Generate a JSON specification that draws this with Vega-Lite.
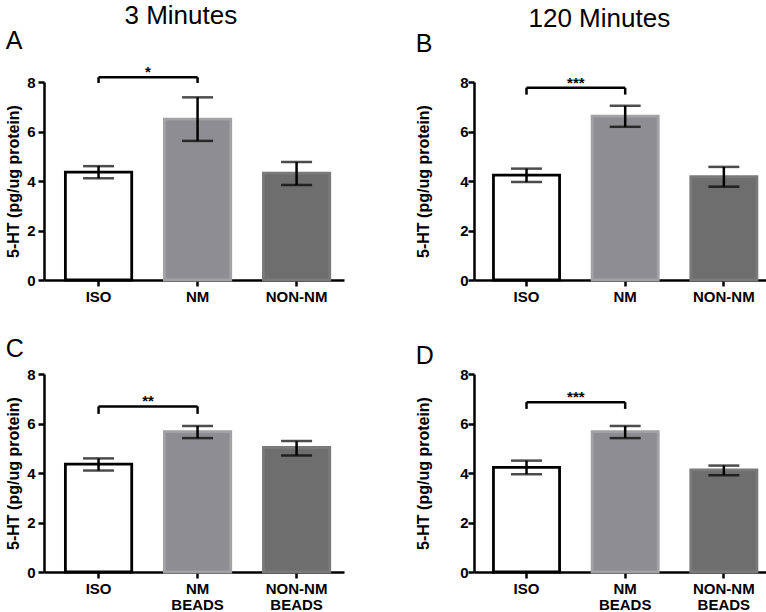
{
  "$schema": "https://vega.github.io/schema/vega-lite/v6.json",
  "padding": {"left": 5, "top": 3, "right": 2, "bottom": 0},
  "datasets": {
    "bars": [
      {"panel": "A", "group": "ISO", "kind": "iso", "mean": 4.36, "lo": 4.11, "hi": 4.60},
      {"panel": "A", "group": "NM", "kind": "nm", "mean": 6.50, "lo": 5.62, "hi": 7.38},
      {"panel": "A", "group": "NON-NM", "kind": "non", "mean": 4.32, "lo": 3.84, "hi": 4.77},
      {"panel": "B", "group": "ISO", "kind": "iso", "mean": 4.24, "lo": 3.96, "hi": 4.50},
      {"panel": "B", "group": "NM", "kind": "nm", "mean": 6.62, "lo": 6.19, "hi": 7.04},
      {"panel": "B", "group": "NON-NM", "kind": "non", "mean": 4.18, "lo": 3.77, "hi": 4.57},
      {"panel": "C", "group": "ISO", "kind": "iso", "mean": 4.36, "lo": 4.10, "hi": 4.59},
      {"panel": "C", "group": "NM BEADS", "kind": "nm", "mean": 5.67, "lo": 5.41, "hi": 5.90},
      {"panel": "C", "group": "NON-NM BEADS", "kind": "non", "mean": 5.03, "lo": 4.71, "hi": 5.29},
      {"panel": "D", "group": "ISO", "kind": "iso", "mean": 4.23, "lo": 3.95, "hi": 4.50},
      {"panel": "D", "group": "NM BEADS", "kind": "nm", "mean": 5.67, "lo": 5.41, "hi": 5.90},
      {"panel": "D", "group": "NON-NM BEADS", "kind": "non", "mean": 4.13, "lo": 3.91, "hi": 4.30}
    ],
    "sig": [
      {"panel": "A", "from": "ISO", "to": "NM", "top": 8.19, "low": 7.96, "stars": "*"},
      {"panel": "B", "from": "ISO", "to": "NM", "top": 7.77, "low": 7.49, "stars": "***"},
      {"panel": "C", "from": "ISO", "to": "NM BEADS", "top": 6.69, "low": 6.39, "stars": "**"},
      {"panel": "D", "from": "ISO", "to": "NM BEADS", "top": 6.86, "low": 6.59, "stars": "***"}
    ]
  },
  "spacing": 71,
  "hconcat": [
    {
      "title": {"text": "3 Minutes", "anchor": "middle", "fontSize": 26, "fontWeight": "normal", "offset": 0, "dx": 6},
      "spacing": 33,
      "vconcat": [
        {
          "width": 300, "height": 198,
          "title": {"text": "A", "anchor": "start", "frame": "bounds", "fontSize": 25, "fontWeight": "normal", "offset": 11},
          "layer": [
            {"data": {"name": "bars"}, "transform": [{"filter": "datum.panel == 'A'"}],
             "mark": {"type": "bar", "strokeWidth": 2.8},
             "encoding": {
               "x": {"field": "group", "type": "nominal", "scale": {"paddingInner": 0.33, "paddingOuter": 0.18, "align": 0.6}, "axis": {"title": null}},
               "y": {"field": "mean", "type": "quantitative", "scale": {"domain": [0, 8], "nice": false}, "axis": {"title": "5-HT (pg/ug protein)", "values": [0, 2, 4, 6, 8], "titlePadding": 5, "labelPadding": 3}},
               "fill": {"field": "kind", "type": "nominal", "scale": {"domain": ["iso", "nm", "non"], "range": ["#ffffff", "#8e8e92", "#6e6e6e"]}, "legend": null},
               "stroke": {"field": "kind", "type": "nominal", "scale": {"domain": ["iso", "nm", "non"], "range": ["#000000", "#a2a2a4", "#7a7a7a"]}, "legend": null}
             }},
            {"data": {"name": "bars"}, "transform": [{"filter": "datum.panel == 'A'"}],
             "mark": {"type": "rule", "strokeWidth": 2.5, "color": "#000000"},
             "encoding": {"x": {"field": "group", "type": "nominal"}, "y": {"field": "lo", "type": "quantitative"}, "y2": {"field": "hi"}}},
            {"data": {"name": "bars"}, "transform": [{"filter": "datum.panel == 'A'"}],
             "mark": {"type": "tick", "size": 31, "thickness": 2.5, "color": "#000000"},
             "encoding": {"x": {"field": "group", "type": "nominal"}, "y": {"field": "lo", "type": "quantitative"}}},
            {"data": {"name": "bars"}, "transform": [{"filter": "datum.panel == 'A'"}],
             "mark": {"type": "tick", "size": 31, "thickness": 2.5, "color": "#000000"},
             "encoding": {"x": {"field": "group", "type": "nominal"}, "y": {"field": "hi", "type": "quantitative"}}},
            {"data": {"name": "sig"}, "transform": [{"filter": "datum.panel == 'A'"}],
             "mark": {"type": "rule", "strokeWidth": 2.5, "color": "#000000"},
             "encoding": {"x": {"field": "from", "type": "nominal", "bandPosition": 0.5}, "x2": {"field": "to", "bandPosition": 0.5}, "y": {"field": "top", "type": "quantitative"}}},
            {"data": {"name": "sig"}, "transform": [{"filter": "datum.panel == 'A'"}],
             "mark": {"type": "rule", "strokeWidth": 2.5, "color": "#000000"},
             "encoding": {"x": {"field": "from", "type": "nominal"}, "y": {"field": "top", "type": "quantitative"}, "y2": {"field": "low"}}},
            {"data": {"name": "sig"}, "transform": [{"filter": "datum.panel == 'A'"}],
             "mark": {"type": "rule", "strokeWidth": 2.5, "color": "#000000"},
             "encoding": {"x": {"field": "to", "type": "nominal"}, "y": {"field": "top", "type": "quantitative"}, "y2": {"field": "low"}}},
            {"data": {"name": "sig"}, "transform": [{"filter": "datum.panel == 'A'"}],
             "mark": {"type": "text", "fontSize": 15, "fontWeight": "bold", "baseline": "bottom", "dy": 3, "color": "#000000"},
             "encoding": {"x": {"field": "from", "type": "nominal", "bandPosition": 1.246}, "y": {"field": "top", "type": "quantitative"}, "text": {"field": "stars"}}}
          ]
        },
        {
          "width": 300, "height": 198,
          "title": {"text": "C", "anchor": "start", "frame": "bounds", "fontSize": 25, "fontWeight": "normal", "offset": 5},
          "layer": [
            {"data": {"name": "bars"}, "transform": [{"filter": "datum.panel == 'C'"}],
             "mark": {"type": "bar", "strokeWidth": 2.8},
             "encoding": {
               "x": {"field": "group", "type": "nominal", "scale": {"paddingInner": 0.33, "paddingOuter": 0.18, "align": 0.6}, "axis": {"title": null}},
               "y": {"field": "mean", "type": "quantitative", "scale": {"domain": [0, 8], "nice": false}, "axis": {"title": "5-HT (pg/ug protein)", "values": [0, 2, 4, 6, 8], "titlePadding": 5, "labelPadding": 3}},
               "fill": {"field": "kind", "type": "nominal", "scale": {"domain": ["iso", "nm", "non"], "range": ["#ffffff", "#8e8e92", "#6e6e6e"]}, "legend": null},
               "stroke": {"field": "kind", "type": "nominal", "scale": {"domain": ["iso", "nm", "non"], "range": ["#000000", "#a2a2a4", "#7a7a7a"]}, "legend": null}
             }},
            {"data": {"name": "bars"}, "transform": [{"filter": "datum.panel == 'C'"}],
             "mark": {"type": "rule", "strokeWidth": 2.5, "color": "#000000"},
             "encoding": {"x": {"field": "group", "type": "nominal"}, "y": {"field": "lo", "type": "quantitative"}, "y2": {"field": "hi"}}},
            {"data": {"name": "bars"}, "transform": [{"filter": "datum.panel == 'C'"}],
             "mark": {"type": "tick", "size": 31, "thickness": 2.5, "color": "#000000"},
             "encoding": {"x": {"field": "group", "type": "nominal"}, "y": {"field": "lo", "type": "quantitative"}}},
            {"data": {"name": "bars"}, "transform": [{"filter": "datum.panel == 'C'"}],
             "mark": {"type": "tick", "size": 31, "thickness": 2.5, "color": "#000000"},
             "encoding": {"x": {"field": "group", "type": "nominal"}, "y": {"field": "hi", "type": "quantitative"}}},
            {"data": {"name": "sig"}, "transform": [{"filter": "datum.panel == 'C'"}],
             "mark": {"type": "rule", "strokeWidth": 2.5, "color": "#000000"},
             "encoding": {"x": {"field": "from", "type": "nominal", "bandPosition": 0.5}, "x2": {"field": "to", "bandPosition": 0.5}, "y": {"field": "top", "type": "quantitative"}}},
            {"data": {"name": "sig"}, "transform": [{"filter": "datum.panel == 'C'"}],
             "mark": {"type": "rule", "strokeWidth": 2.5, "color": "#000000"},
             "encoding": {"x": {"field": "from", "type": "nominal"}, "y": {"field": "top", "type": "quantitative"}, "y2": {"field": "low"}}},
            {"data": {"name": "sig"}, "transform": [{"filter": "datum.panel == 'C'"}],
             "mark": {"type": "rule", "strokeWidth": 2.5, "color": "#000000"},
             "encoding": {"x": {"field": "to", "type": "nominal"}, "y": {"field": "top", "type": "quantitative"}, "y2": {"field": "low"}}},
            {"data": {"name": "sig"}, "transform": [{"filter": "datum.panel == 'C'"}],
             "mark": {"type": "text", "fontSize": 15, "fontWeight": "bold", "baseline": "bottom", "dy": 3, "color": "#000000"},
             "encoding": {"x": {"field": "from", "type": "nominal", "bandPosition": 1.246}, "y": {"field": "top", "type": "quantitative"}, "text": {"field": "stars"}}}
          ]
        }
      ]
    },
    {
      "title": {"text": "120 Minutes", "anchor": "middle", "fontSize": 26, "fontWeight": "normal", "offset": 0, "dx": 6},
      "spacing": 40,
      "vconcat": [
        {
          "width": 297, "height": 198,
          "title": {"text": "B", "anchor": "start", "frame": "bounds", "fontSize": 25, "fontWeight": "normal", "offset": 18},
          "layer": [
            {"data": {"name": "bars"}, "transform": [{"filter": "datum.panel == 'B'"}],
             "mark": {"type": "bar", "strokeWidth": 2.8},
             "encoding": {
               "x": {"field": "group", "type": "nominal", "scale": {"paddingInner": 0.33, "paddingOuter": 0.17, "align": 0.58}, "axis": {"title": null}},
               "y": {"field": "mean", "type": "quantitative", "scale": {"domain": [0, 8], "nice": false}, "axis": {"title": "5-HT (pg/ug protein)", "values": [0, 2, 4, 6, 8], "titlePadding": 28, "labelPadding": 0}},
               "fill": {"field": "kind", "type": "nominal", "scale": {"domain": ["iso", "nm", "non"], "range": ["#ffffff", "#8e8e92", "#6e6e6e"]}, "legend": null},
               "stroke": {"field": "kind", "type": "nominal", "scale": {"domain": ["iso", "nm", "non"], "range": ["#000000", "#a2a2a4", "#7a7a7a"]}, "legend": null}
             }},
            {"data": {"name": "bars"}, "transform": [{"filter": "datum.panel == 'B'"}],
             "mark": {"type": "rule", "strokeWidth": 2.5, "color": "#000000"},
             "encoding": {"x": {"field": "group", "type": "nominal"}, "y": {"field": "lo", "type": "quantitative"}, "y2": {"field": "hi"}}},
            {"data": {"name": "bars"}, "transform": [{"filter": "datum.panel == 'B'"}],
             "mark": {"type": "tick", "size": 31, "thickness": 2.5, "color": "#000000"},
             "encoding": {"x": {"field": "group", "type": "nominal"}, "y": {"field": "lo", "type": "quantitative"}}},
            {"data": {"name": "bars"}, "transform": [{"filter": "datum.panel == 'B'"}],
             "mark": {"type": "tick", "size": 31, "thickness": 2.5, "color": "#000000"},
             "encoding": {"x": {"field": "group", "type": "nominal"}, "y": {"field": "hi", "type": "quantitative"}}},
            {"data": {"name": "sig"}, "transform": [{"filter": "datum.panel == 'B'"}],
             "mark": {"type": "rule", "strokeWidth": 2.5, "color": "#000000"},
             "encoding": {"x": {"field": "from", "type": "nominal", "bandPosition": 0.5}, "x2": {"field": "to", "bandPosition": 0.5}, "y": {"field": "top", "type": "quantitative"}}},
            {"data": {"name": "sig"}, "transform": [{"filter": "datum.panel == 'B'"}],
             "mark": {"type": "rule", "strokeWidth": 2.5, "color": "#000000"},
             "encoding": {"x": {"field": "from", "type": "nominal"}, "y": {"field": "top", "type": "quantitative"}, "y2": {"field": "low"}}},
            {"data": {"name": "sig"}, "transform": [{"filter": "datum.panel == 'B'"}],
             "mark": {"type": "rule", "strokeWidth": 2.5, "color": "#000000"},
             "encoding": {"x": {"field": "to", "type": "nominal"}, "y": {"field": "top", "type": "quantitative"}, "y2": {"field": "low"}}},
            {"data": {"name": "sig"}, "transform": [{"filter": "datum.panel == 'B'"}],
             "mark": {"type": "text", "fontSize": 15, "fontWeight": "bold", "baseline": "bottom", "dy": 3, "color": "#000000"},
             "encoding": {"x": {"field": "from", "type": "nominal", "bandPosition": 1.246}, "y": {"field": "top", "type": "quantitative"}, "text": {"field": "stars"}}}
          ]
        },
        {
          "width": 297, "height": 198,
          "title": {"text": "D", "anchor": "start", "frame": "bounds", "fontSize": 25, "fontWeight": "normal", "offset": -2},
          "layer": [
            {"data": {"name": "bars"}, "transform": [{"filter": "datum.panel == 'D'"}],
             "mark": {"type": "bar", "strokeWidth": 2.8},
             "encoding": {
               "x": {"field": "group", "type": "nominal", "scale": {"paddingInner": 0.33, "paddingOuter": 0.17, "align": 0.58}, "axis": {"title": null}},
               "y": {"field": "mean", "type": "quantitative", "scale": {"domain": [0, 8], "nice": false}, "axis": {"title": "5-HT (pg/ug protein)", "values": [0, 2, 4, 6, 8], "titlePadding": 28, "labelPadding": 0}},
               "fill": {"field": "kind", "type": "nominal", "scale": {"domain": ["iso", "nm", "non"], "range": ["#ffffff", "#8e8e92", "#6e6e6e"]}, "legend": null},
               "stroke": {"field": "kind", "type": "nominal", "scale": {"domain": ["iso", "nm", "non"], "range": ["#000000", "#a2a2a4", "#7a7a7a"]}, "legend": null}
             }},
            {"data": {"name": "bars"}, "transform": [{"filter": "datum.panel == 'D'"}],
             "mark": {"type": "rule", "strokeWidth": 2.5, "color": "#000000"},
             "encoding": {"x": {"field": "group", "type": "nominal"}, "y": {"field": "lo", "type": "quantitative"}, "y2": {"field": "hi"}}},
            {"data": {"name": "bars"}, "transform": [{"filter": "datum.panel == 'D'"}],
             "mark": {"type": "tick", "size": 31, "thickness": 2.5, "color": "#000000"},
             "encoding": {"x": {"field": "group", "type": "nominal"}, "y": {"field": "lo", "type": "quantitative"}}},
            {"data": {"name": "bars"}, "transform": [{"filter": "datum.panel == 'D'"}],
             "mark": {"type": "tick", "size": 31, "thickness": 2.5, "color": "#000000"},
             "encoding": {"x": {"field": "group", "type": "nominal"}, "y": {"field": "hi", "type": "quantitative"}}},
            {"data": {"name": "sig"}, "transform": [{"filter": "datum.panel == 'D'"}],
             "mark": {"type": "rule", "strokeWidth": 2.5, "color": "#000000"},
             "encoding": {"x": {"field": "from", "type": "nominal", "bandPosition": 0.5}, "x2": {"field": "to", "bandPosition": 0.5}, "y": {"field": "top", "type": "quantitative"}}},
            {"data": {"name": "sig"}, "transform": [{"filter": "datum.panel == 'D'"}],
             "mark": {"type": "rule", "strokeWidth": 2.5, "color": "#000000"},
             "encoding": {"x": {"field": "from", "type": "nominal"}, "y": {"field": "top", "type": "quantitative"}, "y2": {"field": "low"}}},
            {"data": {"name": "sig"}, "transform": [{"filter": "datum.panel == 'D'"}],
             "mark": {"type": "rule", "strokeWidth": 2.5, "color": "#000000"},
             "encoding": {"x": {"field": "to", "type": "nominal"}, "y": {"field": "top", "type": "quantitative"}, "y2": {"field": "low"}}},
            {"data": {"name": "sig"}, "transform": [{"filter": "datum.panel == 'D'"}],
             "mark": {"type": "text", "fontSize": 15, "fontWeight": "bold", "baseline": "bottom", "dy": 3, "color": "#000000"},
             "encoding": {"x": {"field": "from", "type": "nominal", "bandPosition": 1.246}, "y": {"field": "top", "type": "quantitative"}, "text": {"field": "stars"}}}
          ]
        }
      ]
    }
  ],
  "config": {
    "font": "Liberation Sans",
    "view": {"stroke": null},
    "title": {"color": "#000000", "font": "Liberation Sans"},
    "axis": {
      "domainColor": "#000000", "domainWidth": 2.5, "tickColor": "#000000", "tickWidth": 2.5, "tickSize": 6,
      "labelColor": "#000000", "labelFont": "Liberation Sans", "labelFontWeight": "bold", "labelFontSize": 15,
      "titleColor": "#000000", "titleFont": "Liberation Sans", "titleFontWeight": "bold", "titleFontSize": 16,
      "grid": false, "labelPadding": 2
    },
    "axisX": {"labelAngle": 0, "labelExpr": "split(datum.label, ' ')", "labelPadding": 3, "labelLineHeight": 16}
  }
}
